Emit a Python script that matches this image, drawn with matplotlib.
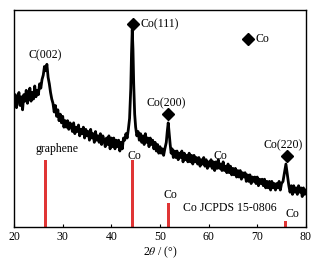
import numpy as np
import matplotlib.pyplot as plt

plt.rcParams['font.family'] = ['Liberation Serif', 'DejaVu Serif']
plt.rcParams['mathtext.fontset'] = 'stix'

# XRD pattern (2theta in degrees, intensity in arbitrary units)
two_theta = [20.0, 20.25, 20.5, 20.75, 21.0, 21.25, 21.5, 21.75, 22.0, 22.25, 22.5, 22.75,
             23.0, 23.25, 23.5, 23.75, 24.0, 24.25, 24.5, 24.75, 25.0, 25.25, 25.5, 25.75,
             26.0, 26.25, 26.5, 26.75, 27.0, 27.25, 27.5, 27.75, 28.0, 28.25, 28.5, 28.75,
             29.0, 29.25, 29.5, 29.75, 30.0, 30.25, 30.5, 30.75, 31.0, 31.25, 31.5, 31.75,
             32.0, 32.25, 32.5, 32.75, 33.0, 33.25, 33.5, 33.75, 34.0, 34.25, 34.5, 34.75,
             35.0, 35.25, 35.5, 35.75, 36.0, 36.25, 36.5, 36.75, 37.0, 37.25, 37.5, 37.75,
             38.0, 38.25, 38.5, 38.75, 39.0, 39.25, 39.5, 39.75, 40.0, 40.25, 40.5, 40.75,
             41.0, 41.25, 41.5, 41.75, 42.0, 42.25, 42.5, 42.75, 43.0, 43.25, 43.5, 43.75,
             44.0, 44.15, 44.3, 44.45, 44.6, 44.8, 45.0, 45.25, 45.5, 45.75, 46.0, 46.25,
             46.5, 46.75, 47.0, 47.25, 47.5, 47.75, 48.0, 48.25, 48.5, 48.75, 49.0, 49.25,
             49.5, 49.75, 50.0, 50.25, 50.5, 50.75, 51.0, 51.3, 51.5, 51.7, 51.9, 52.1,
             52.3, 52.5, 52.75, 53.0, 53.25, 53.5, 53.75, 54.0, 54.25, 54.5, 54.75, 55.0,
             55.25, 55.5, 55.75, 56.0, 56.25, 56.5, 56.75, 57.0, 57.25, 57.5, 57.75, 58.0,
             58.25, 58.5, 58.75, 59.0, 59.25, 59.5, 59.75, 60.0, 60.25, 60.5, 60.75, 61.0,
             61.25, 61.5, 61.75, 62.0, 62.25, 62.5, 62.75, 63.0, 63.25, 63.5, 63.75, 64.0,
             64.25, 64.5, 64.75, 65.0, 65.25, 65.5, 65.75, 66.0, 66.25, 66.5, 66.75, 67.0,
             67.25, 67.5, 67.75, 68.0, 68.25, 68.5, 68.75, 69.0, 69.25, 69.5, 69.75, 70.0,
             70.25, 70.5, 70.75, 71.0, 71.25, 71.5, 71.75, 72.0, 72.25, 72.5, 72.75, 73.0,
             73.25, 73.5, 73.75, 74.0, 74.25, 74.5, 74.75, 75.0, 75.3, 75.6, 75.9, 76.2,
             76.5, 76.75, 77.0, 77.25, 77.5, 77.75, 78.0, 78.25, 78.5, 78.75, 79.0, 79.25,
             79.5, 79.75, 80.0]
intensity = [57, 61, 55, 59, 62, 56, 60, 54, 61, 58, 63, 57,
             60, 64, 58, 62, 59, 65, 60, 63, 61, 66, 64, 68,
             70, 74, 72, 75, 69, 66, 62, 59, 57, 53, 56, 51,
             54, 49, 52, 48, 51, 46, 49, 46, 49, 45, 48, 47,
             44, 48, 43, 46, 44, 47, 42, 45, 43, 46, 41, 45,
             42, 44, 40, 45, 41, 43, 39, 44, 40, 42, 39, 43,
             38, 42, 40, 37, 41, 38, 42, 36, 41, 37, 41, 36,
             40, 37, 40, 35, 39, 36, 41, 40, 43, 41, 45, 50,
             64, 80, 91, 82, 66, 52, 46, 42, 44, 40, 43, 39,
             42, 38, 43, 39, 41, 37, 41, 38, 40, 36, 39, 35,
             38, 34, 37, 34, 36, 33, 36, 39, 44, 48, 43, 38,
             34, 36, 32, 35, 32, 35, 31, 34, 32, 35, 30, 34,
             31, 33, 30, 34, 30, 33, 29, 33, 30, 32, 29, 32,
             28, 31, 29, 32, 28, 31, 27, 30, 28, 31, 27, 30,
             26, 30, 27, 31, 27, 29, 26, 30, 26, 28, 25, 29,
             25, 28, 24, 27, 24, 27, 23, 26, 23, 26, 22, 25,
             23, 25, 21, 24, 21, 24, 20, 23, 21, 23, 20, 23,
             19, 22, 20, 22, 19, 22, 18, 21, 18, 21, 17, 21,
             18, 20, 17, 20, 18, 21, 17, 20, 21, 25, 29, 24,
             19, 16, 19, 15, 19, 16, 18, 15, 19, 16, 18, 14,
             18, 15, 17]

# reference lines (graphene and Co JCPDS 15-0806)
ref_pos = [26.5, 44.3, 51.7, 75.9]
ref_height = [30.9, 30.9, 11.1, 2.8]

fig = plt.figure(figsize=(3.35, 2.66), dpi=100)
ax = fig.add_axes([0.042, 0.147, 0.871, 0.815])

ax.plot(two_theta, intensity, color='black', lw=2.0)
ax.bar(ref_pos, ref_height, width=0.6, color='#e03535')

fs = 8.5
ax.text(26.4, 79.3, 'C(002)', ha='center', va='center', fontsize=fs)
ax.plot(44.5, 93.5, 'D', color='black', ms=6)
ax.text(45.9, 93.5, 'Co(111)', ha='left', va='center', fontsize=fs)
ax.plot(68.1, 86.6, 'D', color='black', ms=6)
ax.text(69.6, 86.6, 'Co', ha='left', va='center', fontsize=fs)
ax.text(51.3, 57.1, 'Co(200)', ha='center', va='center', fontsize=fs)
ax.plot(51.7, 52.1, 'D', color='black', ms=6)
ax.text(75.3, 37.8, 'Co(220)', ha='center', va='center', fontsize=fs)
ax.plot(76.2, 32.7, 'D', color='black', ms=6)
ax.text(28.85, 35.9, 'graphene', ha='center', va='center', fontsize=fs)
ax.text(44.7, 32.7, 'Co', ha='center', va='center', fontsize=fs)
ax.text(62.4, 32.7, 'Co', ha='center', va='center', fontsize=fs)
ax.text(52.1, 14.7, 'Co', ha='center', va='center', fontsize=fs)
ax.text(64.4, 8.8, 'Co JCPDS 15-0806', ha='center', va='center', fontsize=fs)
ax.text(77.2, 6.0, 'Co', ha='center', va='center', fontsize=fs)

ax.set_xlim(20, 80)
ax.set_ylim(0, 100)
ax.set_xticks([20, 30, 40, 50, 60, 70, 80])
ax.set_yticks([])
ax.tick_params(axis='x', direction='in', length=2, pad=3, labelsize=fs)
ax.set_xlabel('2$\\theta$ / (°)', fontsize=fs, labelpad=1)
for s in ax.spines.values():
    s.set_linewidth(1.0)

fig.savefig('out.png', dpi=100)
